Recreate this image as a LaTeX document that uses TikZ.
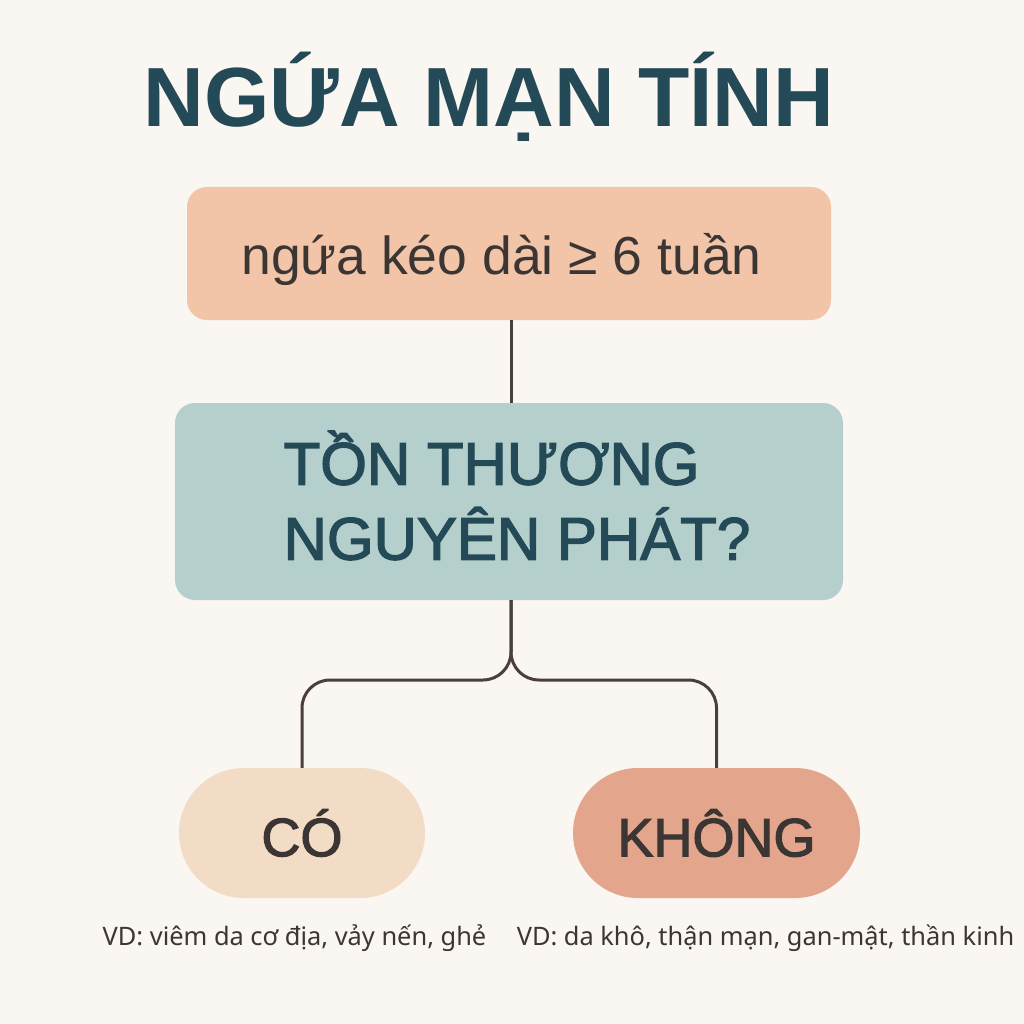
\documentclass[tikz,border=0pt]{standalone}
\usepackage{fontspec}
\setmainfont{Liberation Sans}
\newfontfamily\midfont[FakeBold=2.2]{Liberation Sans}
\newfontfamily\notefont{Noto Sans}
\definecolor{paper}{HTML}{FAF6F1}
\definecolor{titleblue}{HTML}{234A56}
\definecolor{peach}{HTML}{F2C4A8}
\definecolor{sage}{HTML}{B5D0CC}
\definecolor{sand}{HTML}{F3DCC5}
\definecolor{coral}{HTML}{E3A58B}
\definecolor{ink}{HTML}{3B3634}
\definecolor{wire}{HTML}{4A3F3D}
\begin{document}
\begin{tikzpicture}[x=1pt,y=-1pt,
    box/.style={inner sep=0pt,rounded corners=20pt},
    pill/.style={inner sep=0pt,rounded corners=65pt,minimum height=130pt,text=ink,
      font=\midfont\fontsize{54}{60}\selectfont},
    branch/.style={draw=wire,line width=3pt,rounded corners=28pt},
    note/.style={anchor=base,text=ink,inner sep=0pt,font=\notefont\fontsize{25.4}{30}\selectfont}]
    \fill[paper] (0,0) rectangle (1024,1024);
    \node[anchor=base,text=titleblue,inner sep=0pt,font=\bfseries\fontsize{84}{90}\selectfont] (title) at (489,127) {NGỨA MẠN TÍNH};
    \node[box,fill=peach,minimum width=644pt,minimum height=133pt] (lasting) at (509,253.5) {};
    \node[anchor=base,inner sep=0pt,text=ink,font=\fontsize{53.5}{60}\selectfont]
      (lastingtext) at (501.5,274) {ngứa kéo dài ≥ 6 tuần};
    \node[box,fill=sage,minimum width=668pt,minimum height=197pt] (primary) at (509,501.5) {};
    \node[align=left,inner sep=0pt,text=titleblue,font=\midfont\fontsize{60}{75}\selectfont]
      (primarytext) at ([yshift=6pt,xshift=8pt]primary.center) {TỒN THƯƠNG\\NGUYÊN PHÁT?};
    \node[pill,fill=sand,minimum width=246pt] (yes) at (302,833) {CÓ};
    \node[pill,fill=coral,minimum width=287pt] (no) at (716.5,833) {KHÔNG};
    \coordinate (split) at (511,680);
    \draw[draw=wire,line width=3pt] (lasting.south -| split) -- (primary.north -| split);
    \draw[branch] (primary.south -| split) -- (split) -| (yes.north);
    \draw[branch] (primary.south -| split) -- (split) -| (no.north);
    \node[note] (yesnote) at (294.5,945) {VD: viêm da cơ địa, vảy nến, ghẻ};
    \node[note] (nonote) at (765.5,945) {VD: da khô, thận mạn, gan-mật, thần kinh};
  \end{tikzpicture}
\end{document}
